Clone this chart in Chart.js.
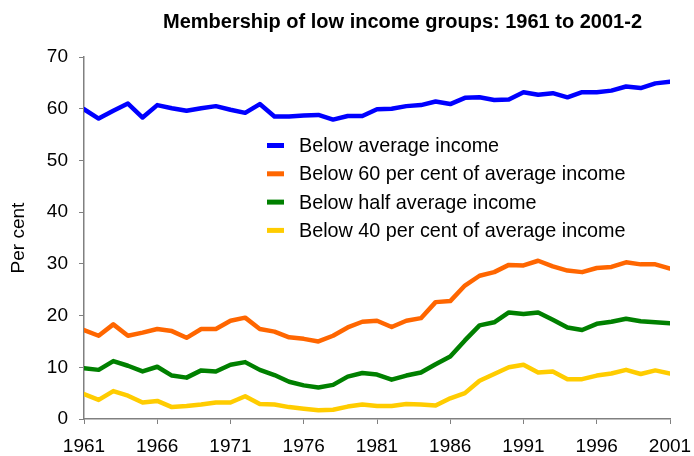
<!DOCTYPE html>
<html>
<head>
<meta charset="utf-8">
<script src="https://cdn.jsdelivr.net/npm/chart.js@4"></script>
<style>
    html, body { margin: 0; padding: 0; background: #fff; }
    #wrap { width: 694px; height: 456px; }
</style>
</head>
<body>
<div id="wrap"><canvas id="incomeChart"></canvas></div>
<script>
// Chart data
const years = [1961, 1962, 1963, 1964, 1965, 1966, 1967, 1968, 1969, 1970,
    1971, 1972, 1973, 1974, 1975, 1976, 1977, 1978, 1979, 1980,
    1981, 1982, 1983, 1984, 1985, 1986, 1987, 1988, 1989, 1990,
    1991, 1992, 1993, 1994, 1995, 1996, 1997, 1998, 1999, 2000, 2001];

const belowAverage = [59.9, 58.1, 59.6, 61.0, 58.3, 60.7, 60.1, 59.6, 60.1, 60.5,
    59.8, 59.2, 60.9, 58.5, 58.5, 58.7, 58.8, 57.9, 58.6, 58.6,
    59.9, 60.0, 60.5, 60.7, 61.4, 60.9, 62.1, 62.2, 61.7, 61.8,
    63.2, 62.7, 63.0, 62.2, 63.2, 63.2, 63.5, 64.3, 64.0, 64.9, 65.2];

const below60 = [17.2, 16.1, 18.3, 16.1, 16.7, 17.4, 17.0, 15.7, 17.4, 17.4,
    19.0, 19.6, 17.4, 16.9, 15.8, 15.5, 15.0, 16.1, 17.7, 18.8,
    19.0, 17.8, 19.0, 19.5, 22.6, 22.8, 25.8, 27.7, 28.4, 29.8,
    29.7, 30.6, 29.5, 28.7, 28.4, 29.2, 29.4, 30.3, 29.9, 29.9, 29.1];

const belowHalf = [9.8, 9.5, 11.2, 10.3, 9.2, 10.1, 8.4, 8.0, 9.4, 9.2,
    10.5, 11.0, 9.5, 8.5, 7.2, 6.5, 6.1, 6.6, 8.2, 8.9,
    8.6, 7.6, 8.4, 9.0, 10.6, 12.1, 15.2, 18.1, 18.7, 20.6,
    20.3, 20.6, 19.2, 17.7, 17.2, 18.4, 18.8, 19.4, 18.9, 18.7, 18.5];

const below40 = [4.8, 3.7, 5.4, 4.5, 3.2, 3.5, 2.3, 2.5, 2.8, 3.2,
    3.2, 4.4, 2.9, 2.8, 2.3, 2.0, 1.7, 1.8, 2.4, 2.8,
    2.5, 2.5, 2.9, 2.8, 2.6, 4.0, 5.0, 7.4, 8.7, 10.0,
    10.5, 9.0, 9.2, 7.7, 7.7, 8.4, 8.8, 9.5, 8.7, 9.4, 8.8];

const seriesNames = [
    'Below average income',
    'Below 60 per cent of average income',
    'Below half average income',
    'Below 40 per cent of average income'
];
const seriesColors = ['#0000ff', '#ff6600', '#008000', '#ffcc00'];
const yTicks = [0, 10, 20, 30, 40, 50, 60, 70];
const xTicks = [1961, 1966, 1971, 1976, 1981, 1986, 1991, 1996, 2001];

const chartTitle = 'Membership of low income groups: 1961 to 2001-2';
const axisColor = '#808080';
const fontFamily = '"Liberation Sans", Arial, sans-serif';

function toPoints(values) {
    return values.map((v, i) => ({ x: years[i], y: v }));
}

// Title + legend drawn at fixed spots, like the original
const titlePlugin = {
    id: 'fixedTitle',
    afterDraw(chart) {
        const ctx = chart.ctx;
        ctx.save();
        ctx.font = 'bold 20px ' + fontFamily;
        ctx.fillStyle = '#000';
        ctx.textAlign = 'left';
        ctx.textBaseline = 'alphabetic';
        ctx.fillText(chartTitle, 163, 28);
        ctx.restore();
    }
};

const legendPlugin = {
    id: 'innerLegend',
    afterDatasetsDraw(chart) {
        const ctx = chart.ctx;
        ctx.save();
        ctx.font = '19.8px ' + fontFamily;
        ctx.textBaseline = 'middle';
        ctx.textAlign = 'left';
        chart.data.datasets.forEach((ds, i) => {
            const y = 145.5 + i * 28.3;
            ctx.strokeStyle = ds.borderColor;
            ctx.lineWidth = 5;
            ctx.beginPath();
            ctx.moveTo(267, y);
            ctx.lineTo(284, y);
            ctx.stroke();
            ctx.fillStyle = '#000';
            ctx.fillText(ds.label, 299, y + 1);
        });
        ctx.restore();
    }
};

const datasets = [belowAverage, below60, belowHalf, below40].map((vals, i) => ({
    label: seriesNames[i],
    data: toPoints(vals),
    borderColor: seriesColors[i],
    backgroundColor: seriesColors[i],
    borderWidth: 4.5,
    borderJoinStyle: 'round',
    borderCapStyle: 'round',
    pointRadius: 0,
    tension: 0,
    fill: false
}));

new Chart(document.getElementById('incomeChart'), {
    type: 'line',
    data: { datasets: datasets },
    options: {
        responsive: true,
        maintainAspectRatio: false,
        animation: false,
        layout: { padding: { top: 57, right: 24, left: 0, bottom: 0 } },
        plugins: {
            legend: { display: false },
            title: { display: false },
            tooltip: { enabled: false }
        },
        scales: {
            x: {
                type: 'linear',
                min: 1961,
                max: 2001,
                afterBuildTicks: (s) => { s.ticks = xTicks.map(v => ({ value: v })); },
                afterFit: (s) => {
                    s.height = 37;
                    s.paddingLeft = 0;
                    s.paddingRight = 0;
                },
                ticks: {
                    color: '#000',
                    font: { family: fontFamily, size: 19 },
                    padding: 11,
                    maxRotation: 0,
                    callback: (v) => String(v)
                },
                grid: {
                    drawOnChartArea: false,
                    drawTicks: true,
                    tickLength: 5,
                    color: axisColor,
                    tickColor: axisColor
                },
                border: { color: axisColor, width: 1.5 }
            },
            y: {
                min: 0,
                max: 70,
                afterBuildTicks: (s) => { s.ticks = yTicks.map(v => ({ value: v })); },
                afterFit: (s) => { s.width = 84; },
                title: {
                    display: true,
                    text: 'Per cent',
                    color: '#000',
                    font: { family: fontFamily, size: 19 },
                    padding: { top: 7, bottom: 0 }
                },
                ticks: {
                    color: '#000',
                    font: { family: fontFamily, size: 19 },
                    padding: 11
                },
                grid: {
                    drawOnChartArea: false,
                    drawTicks: true,
                    tickLength: 5,
                    color: axisColor,
                    tickColor: axisColor
                },
                border: { color: axisColor, width: 1.5 }
            }
        }
    },
    plugins: [legendPlugin, titlePlugin]
});
</script>
</body>
</html>
